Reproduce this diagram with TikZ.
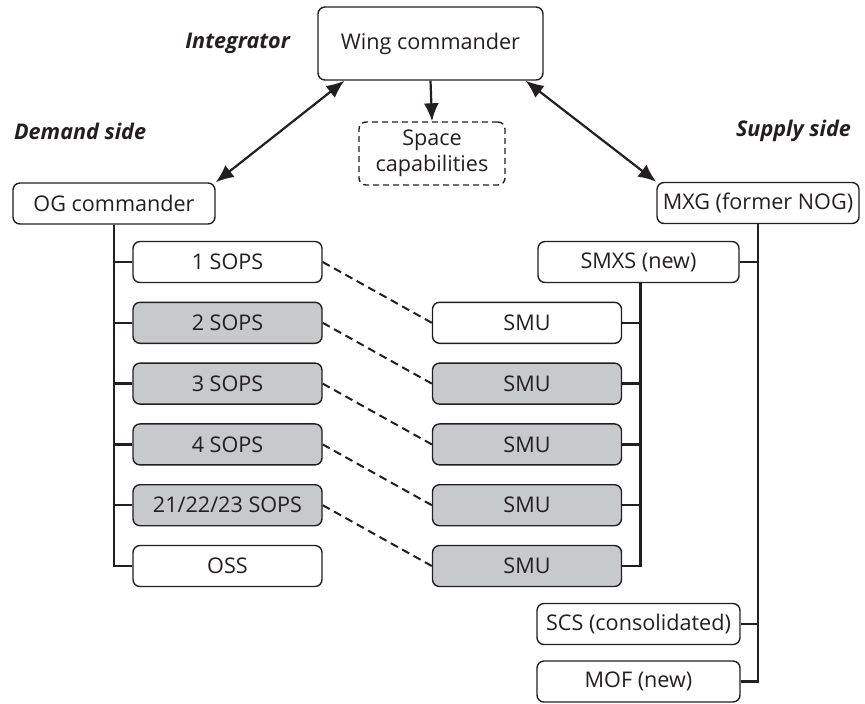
\documentclass[tikz,border=0pt]{standalone}
\usepackage{fontspec}
\setmainfont{Open Sans}
\usetikzlibrary{arrows.meta,calc}

\definecolor{unitgray}{RGB}{200,201,203}
\definecolor{linegray}{RGB}{35,31,32}

\begin{document}
\begin{tikzpicture}[x=0.5pt,y=-0.5pt,
    box/.style={draw=linegray,line width=0.7pt,rounded corners=3.5pt,
      minimum height=20.5pt,inner sep=1pt,font=\fontsize{10.8}{12}\selectfont,text=linegray},
    graybox/.style={box,fill=unitgray},
    side/.style={font=\fontsize{10.8}{12}\selectfont\bfseries\itshape,text=linegray},
    tree/.style={draw=linegray,line width=1.2pt},
    link/.style={draw=linegray,line width=1pt,dash pattern=on 4pt off 2.5pt},
    tip/.style={draw=linegray,line width=1.1pt,-{Latex[length=9pt,width=7.5pt]}},
    twoway/.style={draw=linegray,line width=1.1pt,{Latex[length=9pt,width=7.5pt]}-{Latex[length=9pt,width=7.5pt]}}]
      \useasboundingbox (0,0) rectangle (865,703);

      % top of the wing
      \node[box,minimum width=112.5pt,minimum height=36.5pt] (wing) at (430.5,43.5) {Wing commander};
      \node[box,dashed,dash pattern=on 3pt off 2pt,minimum width=73pt,minimum height=31.5pt,
        align=center,font=\fontsize{10.8}{13}\selectfont] (space) at (432,153.5) {Space\\capabilities};
      \node[side,anchor=east] (integ) at (297,43.5) {Integrator};
      \node[side,anchor=west] (demand) at (7,131) {Demand side};
      \node[side,anchor=east] (supply) at (858,131) {Supply side};

      \node[box,minimum width=101pt] (og) at (114,203.5) {OG commander};
      \node[box,minimum width=101pt] (mxg) at (758,203) {MXG (former NOG)};

      \draw[twoway] (og.north east) -- ($(wing.south west)!0.12!(wing.south east)$);
      \draw[twoway] (mxg.north west) -- ($(wing.south west)!0.92!(wing.south east)$);
      \draw[tip] (wing.south) -- (space.north);

      % demand side squadrons
      \node[box,minimum width=94.5pt] (sops1) at (227.5,262) {1 SOPS};
      \node[graybox,minimum width=94.5pt] (sops2) at (227.5,322.8) {2 SOPS};
      \node[graybox,minimum width=94.5pt] (sops3) at (227.5,383.6) {3 SOPS};
      \node[graybox,minimum width=94.5pt] (sops4) at (227.5,444.4) {4 SOPS};
      \node[graybox,minimum width=94.5pt] (sops5) at (227.5,505.2) {21/22/23 SOPS};
      \node[box,minimum width=94.5pt] (oss) at (227.5,566) {OSS};

      % supply side squadrons
      \node[box,minimum width=100.5pt] (smxs) at (638.5,262) {SMXS (new)};
      \node[box,minimum width=94.5pt] (smu1) at (527,322.8) {SMU};
      \node[graybox,minimum width=94.5pt] (smu2) at (527,383.6) {SMU};
      \node[graybox,minimum width=94.5pt] (smu3) at (527,444.4) {SMU};
      \node[graybox,minimum width=94.5pt] (smu4) at (527,505.2) {SMU};
      \node[graybox,minimum width=94.5pt] (smu5) at (527,566) {SMU};
      \node[box,minimum width=101.5pt] (scs) at (638.5,624) {SCS (consolidated)};
      \node[box,minimum width=101.5pt] (mof) at (638.5,681.5) {MOF (new)};

      \foreach \n in {sops1,sops2,sops3,sops4,sops5,oss}
        \draw[tree] (og.south) |- (\n.west);
      \foreach \n in {smu1,smu2,smu3,smu4,smu5}
        \draw[tree] ([xshift=1pt]smxs.south) |- (\n.east);
      \foreach \n in {smxs,scs,mof}
        \draw[tree] (mxg.south) |- (\n.east);

      \foreach \i in {1,...,5}
        \draw[link] (sops\i.east) -- (smu\i.west);
\end{tikzpicture}
\end{document}
